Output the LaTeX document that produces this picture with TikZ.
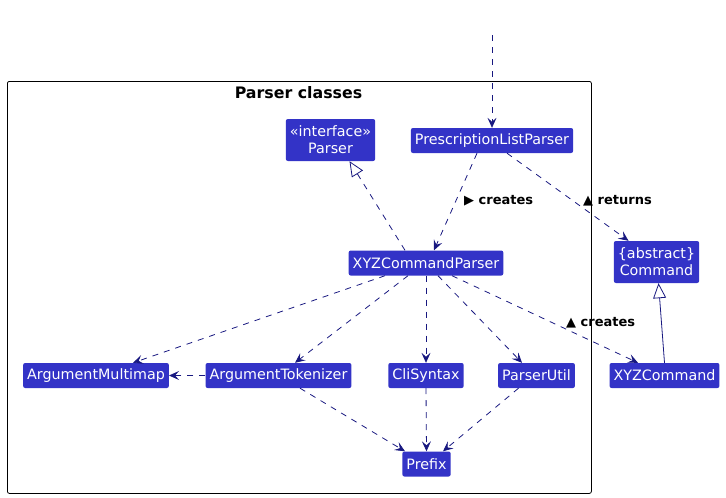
\documentclass[tikz,border=0pt]{standalone}
\usepackage{fontspec}
\setmainfont{DejaVu Sans}
\usetikzlibrary{arrows.meta,calc}
\definecolor{boxfill}{RGB}{51,51,199}
\definecolor{linecol}{RGB}{24,24,128}
\tikzset{
  cls/.style={rectangle, rounded corners=2pt, fill=boxfill, text=white, font=\fontsize{14.3}{16.8}\selectfont, minimum height=25pt, inner xsep=4pt, inner ysep=2pt, align=center},
  dep/.style={draw=linecol, dashed, dash pattern=on 6pt off 6pt, line width=0.8pt, -{Stealth[length=10pt,width=9pt,inset=4pt]}},
  real/.style={draw=linecol, dashed, dash pattern=on 6pt off 6pt, line width=0.8pt, -{Triangle[open,length=15pt,width=13pt]}},
  gen/.style={draw=linecol, line width=0.8pt, -{Triangle[open,length=15pt,width=13pt]}},
  lbl/.style={font=\bfseries\fontsize{13}{15}\selectfont, text=black, inner sep=1pt},
}
\begin{document}
\begin{tikzpicture}[x=1pt,y=-1pt]
\useasboundingbox (0,0) rectangle (726,498);
\node[draw=black, line width=0.8pt, rounded corners=2pt, minimum width=584pt, minimum height=412pt, anchor=north west] (pkg) at (7,81) {};
\node[font=\bfseries\fontsize{15.8}{18}\selectfont, anchor=center] (pkgtitle) at (298.5,92.5) {Parser classes};

\node[cls, minimum height=42pt] (parser) at (330.5,140) {«interface»\\Parser};
\node[cls] (plp) at (492,140.5) {PrescriptionListParser};
\node[cls] (xyzp) at (426,263) {XYZCommandParser};
\node[cls, minimum height=42pt] (cmd) at (656.5,262) {\{abstract\}\\Command};
\node[cls] (xyzc) at (664.5,375.5) {XYZCommand};
\node[cls] (am) at (96,375.5) {ArgumentMultimap};
\node[cls] (at) at (278.5,375.5) {ArgumentTokenizer};
\node[cls] (cli) at (426,375.5) {CliSyntax};
\node[cls] (pu) at (536.5,375.5) {ParserUtil};
\node[cls] (prefix) at (426.5,464) {Prefix};
\coordinate (start) at (492,35);

\draw[dep] (start) -- (plp.north);
\draw[dep] ($(plp.south)+(-15,0)$) -- ($(xyzp.north)+(8,0)$);
\draw[dep] ($(plp.south)+(15,0)$) -- ($(cmd.north)+(-28,0)$);
\draw[real] ($(xyzp.north)+(-21,0)$) -- ($(parser.south)+(19,0)$);
\draw[gen] (xyzc.north) -- ($(cmd.south)+(2,0)$);
\draw[dep] ($(xyzp.south)+(-41,0)$) -- ($(am.north)+(37,0)$);
\draw[dep] ($(xyzp.south)+(-18,0)$) -- ($(at.north)+(16.5,0)$);
\draw[dep] (xyzp.south) -- (cli.north);
\draw[dep] ($(xyzp.south)+(12,0)$) -- ($(pu.north)+(-14.5,0)$);
\draw[dep] ($(xyzp.south)+(26,0)$) -- ($(xyzc.north)+(-26.5,0)$);
\draw[dep] (at.west) -- (am.east);
\draw[dep] ($(at.south)+(21.5,0)$) -- ($(prefix.north)+(-21.5,0)$);
\draw[dep] (cli.south) -- (prefix.north);
\draw[dep] ($(pu.south)+(-18,0)$) -- ($(prefix.north)+(16.5,0)$);

\node[lbl, anchor=west] (l1) at (463,201) {▶ creates};
\node[lbl, anchor=west] (l2) at (582,201) {▲ returns};
\node[lbl, anchor=west] (l3) at (565,323) {▲ creates};
\end{tikzpicture}
\end{document}
